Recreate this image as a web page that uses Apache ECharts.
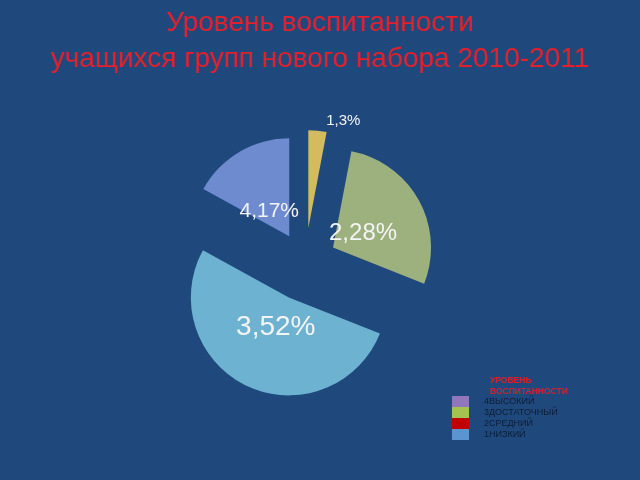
<!DOCTYPE html>
<html><head><meta charset="utf-8">
<script src="https://cdn.jsdelivr.net/npm/echarts@6/dist/echarts.min.js"></script>
<style>html,body{margin:0;padding:0;background:#1f497d}#c{width:640px;height:480px}</style>
</head><body><div id="c"></div>
<script>
// ---- data ----
const categories = ['1', '2', '3', '4'];
const values = [3, 28, 52, 17];
const legendNames = ['4ВЫСОКИЙ', '3ДОСТАТОЧНЫЙ', '2СРЕДНИЙ', '1НИЗКИЙ'];
const titleText = 'Уровень воспитанности\nучащихся групп нового набора 2010-2011';
const legendTitleText = 'УРОВЕНЬ\nВОСПИТАННОСТИ';

// ---- styles ----
const sliceColors = ['#d5bb60', '#9db17f', '#6db2d0', '#6e8bd0'];
const legendColors = ['#9076ba', '#a4c24f', '#c00000', '#5c94d2'];
const explode = [35, 32, 38, 31];
const labelSizes = [15, 24, 28, 21];
const labelShift = [[35, -107], [30, -14], [-13, 30], [-20, -25]];
const FONT = 'Liberation Sans, Arial, sans-serif';

const chart = echarts.init(document.getElementById('c'));

const sliceSeries = categories.map((cat, i) => ({
  type: 'pie',
  name: 'slice' + i,
  center: [305, 263],
  radius: [0, 98],
  startAngle: 90,
  clockwise: true,
  silent: true,
  selectedMode: true,
  selectedOffset: explode[i],
  avoidLabelOverlap: false,
  emphasis: { disabled: true },
  itemStyle: { borderWidth: 0 },
  labelLine: { show: false },
  labelLayout: { hideOverlap: false, moveOverlap: null, dx: labelShift[i][0], dy: labelShift[i][1] },
  label: {
    position: 'center',
    formatter: '{b},{c}%',
    color: '#f4f4f4',
    fontSize: labelSizes[i],
    fontFamily: FONT
  },
  data: categories.map((c, j) => ({
    name: c,
    value: values[j],
    selected: j === i,
    itemStyle: { color: j === i ? sliceColors[j] : 'rgba(0,0,0,0)' },
    label: { show: j === i }
  }))
}));

const legendSeries = {
  type: 'pie',
  name: 'legendSeries',
  center: [600, 20],
  radius: [0, 0],
  silent: true,
  label: { show: false },
  labelLine: { show: false },
  data: legendNames.map((n, i) => ({ name: n, value: 1, itemStyle: { color: legendColors[i] } }))
};

chart.setOption({
  animation: false,
  backgroundColor: '#1f497d',
  title: [{
    text: titleText,
    left: 'center',
    top: 0,
    textStyle: { color: '#e3202b', fontSize: 28, fontWeight: 'normal', fontFamily: FONT, lineHeight: 36 }
  }, {
    text: legendTitleText,
    left: 490,
    top: 375,
    padding: 0,
    textStyle: { color: '#d8202b', fontSize: 8.5, fontWeight: 'bold', fontFamily: FONT, lineHeight: 11 }
  }],
  legend: {
    data: legendNames,
    orient: 'vertical',
    left: 452,
    top: 396,
    padding: 0,
    itemWidth: 17,
    itemHeight: 11,
    itemGap: 0,
    icon: 'rect',
    selectedMode: false,
    textStyle: { color: '#0e1c33', fontSize: 9, fontFamily: FONT, padding: [0, 0, 0, 10] }
  },
  series: sliceSeries.concat([legendSeries])
});
</script>
</body></html>
